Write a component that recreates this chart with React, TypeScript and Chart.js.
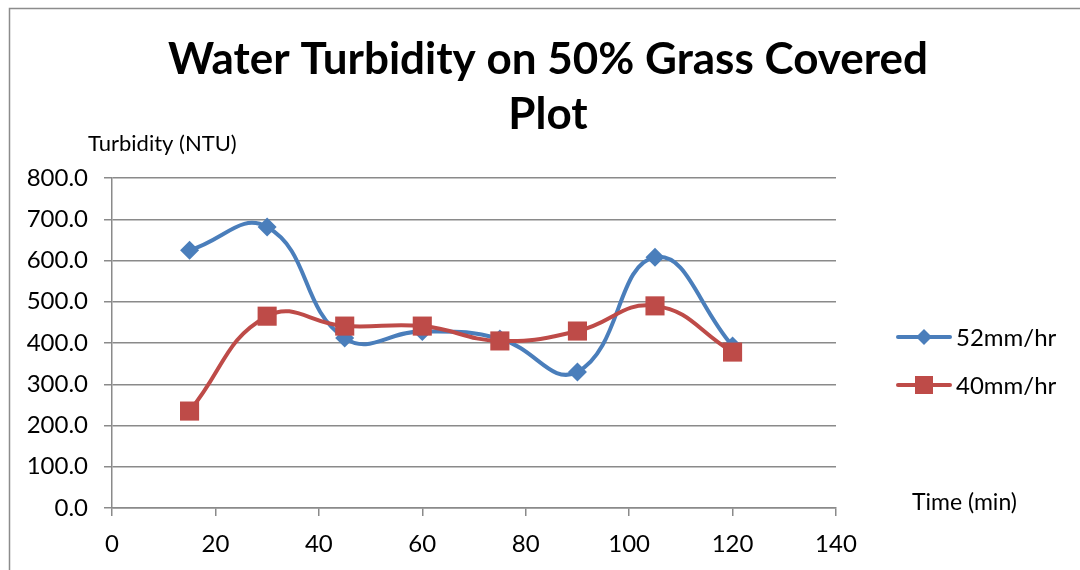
import React, { useEffect, useRef } from "react";
import { Chart, registerables } from "chart.js";

Chart.register(...registerables);

const titleLines = ["Water Turbidity on 50% Grass Covered", "Plot"];
const yAxisTitle = "Turbidity (NTU)";
const xAxisTitle = "Time (min)";
const times = [15, 30, 45, 60, 75, 90, 105, 120];
const series52Label = "52mm/hr";
const series52 = [625, 681, 412, 428, 410, 330, 608, 393];
const series40Label = "40mm/hr";
const series40 = [235, 465, 441, 441, 405, 429, 490, 378];

const BLUE = "#4A7EBB";
const RED = "#BE4B48";
const GRID = "#8a8a8a";
const FONT = "Lato, 'Open Sans', sans-serif";

const decorPlugin = {
  id: "decor",
  afterDraw(chart: any) {
    const ctx = chart.ctx as CanvasRenderingContext2D;
    ctx.save();
    // outer frame
    ctx.strokeStyle = "#8c8c8c";
    ctx.lineWidth = 1.5;
    ctx.beginPath();
    ctx.moveTo(9.5, 575);
    ctx.lineTo(9.5, 8.5);
    ctx.lineTo(1085, 8.5);
    ctx.stroke();

    // title
    ctx.fillStyle = "#000";
    ctx.textAlign = "center";
    ctx.textBaseline = "alphabetic";
    ctx.font = `bold 44px ${FONT}`;
    ctx.fillText(titleLines[0], 548, 74);
    ctx.fillText(titleLines[1], 548, 129);

    // axis titles
    ctx.font = `22px ${FONT}`;
    ctx.textAlign = "left";
    ctx.fillText(yAxisTitle, 88, 151);
    ctx.font = `23px ${FONT}`;
    ctx.fillText(xAxisTitle, 912, 510);

    // legend
    const items = [
      { label: series52Label, color: BLUE, style: "diamond", y: 337 },
      { label: series40Label, color: RED, style: "square", y: 385 },
    ];
    for (const it of items) {
      ctx.strokeStyle = it.color;
      ctx.lineWidth = 4;
      ctx.lineCap = "round";
      ctx.beginPath();
      ctx.moveTo(898, it.y);
      ctx.lineTo(950, it.y);
      ctx.stroke();
      ctx.fillStyle = it.color;
      ctx.beginPath();
      if (it.style === "diamond") {
        ctx.moveTo(924, it.y - 8);
        ctx.lineTo(932, it.y);
        ctx.lineTo(924, it.y + 8);
        ctx.lineTo(916, it.y);
        ctx.closePath();
      } else {
        ctx.rect(915, it.y - 9, 18, 18);
      }
      ctx.fill();
      ctx.fillStyle = "#000";
      ctx.font = `24px ${FONT}`;
      ctx.textAlign = "left";
      ctx.textBaseline = "middle";
      ctx.fillText(it.label, 956, it.y + 1);
    }
    ctx.restore();
  },
};

export default function App() {
  const ref = useRef<HTMLCanvasElement>(null);
  useEffect(() => {
    if (!ref.current) return;
    const chart = new Chart(ref.current, {
      type: "line",
      data: {
        datasets: [
          {
            label: series52Label,
            data: times.map((t, i) => ({ x: t, y: series52[i] })),
            borderColor: BLUE,
            backgroundColor: BLUE,
            borderWidth: 4,
            tension: 0.45,
            pointStyle: "rectRot",
            pointRadius: 9.5,
            pointBorderWidth: 0,
            order: 1,
          },
          {
            label: series40Label,
            data: times.map((t, i) => ({ x: t, y: series40[i] })),
            borderColor: RED,
            backgroundColor: RED,
            borderWidth: 4,
            tension: 0.45,
            pointStyle: "rect",
            pointRadius: 13.5,
            pointBorderWidth: 0,
            order: 0,
          },
        ],
      },
      options: {
        animation: false,
        responsive: false,
        maintainAspectRatio: false,
        layout: { padding: { top: 178, left: 0, right: 244, bottom: 0 } },
        plugins: {
          legend: { display: false },
          title: { display: false },
          tooltip: { enabled: false },
        },
        scales: {
          x: {
            type: "linear",
            min: 0,
            max: 140,
            ticks: {
              stepSize: 20,
              color: "#000",
              font: { family: FONT, size: 24 },
              padding: 14,
              maxRotation: 0,
            },
            grid: {
              drawOnChartArea: false,
              drawTicks: true,
              tickLength: 8,
              color: GRID,
              lineWidth: 1.5,
            },
            border: { display: true, color: GRID, width: 1.5 },
            afterFit: (s: any) => {
              s.height = 62;
            },
          },
          y: {
            min: 0,
            max: 800,
            ticks: {
              stepSize: 100,
              color: "#000",
              font: { family: FONT, size: 24 },
              padding: 16,
              callback: (v: any) => Number(v).toFixed(1),
            },
            grid: {
              drawOnChartArea: true,
              drawTicks: true,
              tickLength: 8,
              color: GRID,
              lineWidth: 1.5,
            },
            border: { display: true, color: GRID, width: 1.5 },
            afterFit: (s: any) => {
              s.width = 112;
            },
          },
        },
      },
      plugins: [decorPlugin],
    });
    return () => chart.destroy();
  }, []);
  return (
    <div style={{ position: "fixed", left: 0, top: 0, width: 1080, height: 570, background: "#fff" }}>
      <canvas ref={ref} width={1080} height={570} style={{ display: "block" }} />
    </div>
  );
}
